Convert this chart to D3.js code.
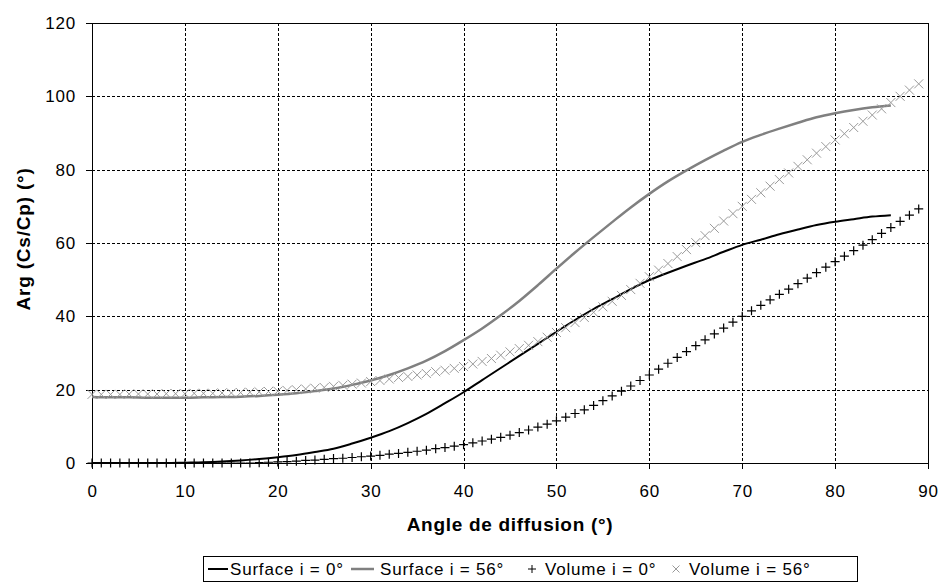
<!DOCTYPE html>
<html>
<head>
<meta charset="utf-8">
<script src="https://cdn.jsdelivr.net/npm/d3@7"></script>
<style>
  html, body { margin: 0; padding: 0; background: #fff; }
  svg { display: block; font-family: "Liberation Sans", Arial, sans-serif; }
</style>
</head>
<body>
<svg id="chart" width="939" height="583"></svg>
<script>
// Scattering angle (deg) and phase difference Arg(Cs/Cp) (deg)
const surfaceAngles = [0,2,4,6,8,10,12,14,16,18,20,22,24,26,28,30,32,34,36,38,40,42,44,46,48,50,52,54,56,58,60,62,64,66,68,70,72,74,76,78,80,82,84,86];
const surface0 = [0,0,0,0,0,0.1,0.2,0.4,0.7,1.1,1.6,2.2,3.0,3.9,5.3,6.9,8.7,10.9,13.4,16.3,19.3,22.6,25.9,29.2,32.5,35.8,39.0,42.0,44.7,47.4,49.9,51.9,53.8,55.6,57.6,59.5,60.9,62.4,63.7,64.9,65.8,66.5,67.2,67.6];
const surface56 = [18.0,17.9,17.9,17.8,17.8,17.8,17.9,18.0,18.1,18.3,18.6,19.0,19.6,20.3,21.3,22.5,24.0,25.8,27.9,30.5,33.5,36.7,40.3,44.2,48.5,53.0,57.4,61.6,65.7,69.7,73.4,76.8,79.8,82.6,85.2,87.6,89.5,91.2,92.8,94.3,95.4,96.3,97.0,97.5];

const volumeAngles = d3.range(0, 90);
const volume0 = [0,0,0,0,0,0,0,0,0,0,0,0,0,0,0,0,0,0,0.1,0.2,0.3,0.4,0.5,0.7,0.8,1.0,1.2,1.3,1.5,1.7,1.9,2.1,2.4,2.6,2.9,3.2,3.5,3.9,4.2,4.6,5.0,5.5,6.0,6.5,7.0,7.6,8.3,9.0,9.8,10.6,11.5,12.5,13.5,14.5,15.7,17.0,18.3,19.6,21.0,22.5,24.0,25.6,27.2,28.8,30.4,32.0,33.6,35.2,36.8,38.4,40.0,41.5,43.0,44.5,46.0,47.4,48.9,50.4,51.9,53.4,54.9,56.4,57.9,59.4,60.9,62.6,64.2,65.9,67.6,69.3];
const volume56 = [18.7,18.7,18.7,18.7,18.8,18.8,18.8,18.8,18.9,18.9,18.9,19.0,19.0,19.0,19.1,19.1,19.2,19.3,19.4,19.5,19.6,19.8,20.0,20.2,20.4,20.6,20.9,21.2,21.5,21.8,22.2,22.5,22.9,23.3,23.6,24.0,24.4,24.9,25.3,25.8,26.3,27.0,27.7,28.5,29.4,30.3,31.2,32.1,33.1,34.3,35.6,36.9,38.3,39.7,41.1,42.6,44.1,45.7,47.3,49.0,50.8,52.6,54.4,56.3,58.2,60.1,62.0,64.0,66.0,68.0,70.0,71.9,73.7,75.5,77.3,79.1,80.9,82.7,84.5,86.3,88.1,89.8,91.5,93.2,94.9,96.6,98.3,100.0,101.7,103.4];

const xTicks = [0,10,20,30,40,50,60,70,80,90];
const yTicks = [0,20,40,60,80,100,120];
const legendLabels = ["Surface i = 0°", "Surface i = 56°", "Volume i = 0°", "Volume i = 56°"];

const svg = d3.select("#chart");
const plot = { left: 92, top: 23, right: 928, bottom: 463 };

const x = d3.scaleLinear().domain([0, 90]).range([plot.left, plot.right]);
const y = d3.scaleLinear().domain([0, 120]).range([plot.bottom, plot.top]);

const tickFont = "17px";

// dashed grid
const grid = svg.append("g").attr("stroke", "#000").attr("stroke-width", 1).attr("stroke-dasharray", "3,2").attr("shape-rendering", "crispEdges");
grid.selectAll("line.h").data(yTicks.filter(d => d > 0 && d < 120)).join("line")
  .attr("class", "h")
  .attr("x1", plot.left).attr("x2", plot.right)
  .attr("y1", d => Math.round(y(d)) + 0.5).attr("y2", d => Math.round(y(d)) + 0.5);
grid.selectAll("line.v").data(xTicks.filter(d => d > 0 && d < 90)).join("line")
  .attr("class", "v")
  .attr("y1", plot.top).attr("y2", plot.bottom)
  .attr("x1", d => Math.round(x(d)) + 0.5).attr("x2", d => Math.round(x(d)) + 0.5);

// frame (top and right)
svg.append("path")
  .attr("d", `M${plot.left},${plot.top + 0.5}H${plot.right + 0.5}V${plot.bottom}`)
  .attr("fill", "none").attr("stroke", "#000").attr("stroke-width", 1).attr("shape-rendering", "crispEdges");

// axes
const xAxis = svg.append("g")
  .attr("transform", `translate(0,${plot.bottom})`)
  .call(d3.axisBottom(x).tickValues(xTicks).tickSize(6).tickPadding(16).tickFormat(d3.format("d")));
const yAxis = svg.append("g")
  .attr("transform", `translate(${plot.left},0)`)
  .call(d3.axisLeft(y).tickValues(yTicks).tickSize(6).tickPadding(10).tickFormat(d3.format("d")));
[xAxis, yAxis].forEach(a => {
  a.select(".domain").attr("stroke", "#000").attr("shape-rendering", "crispEdges");
  a.selectAll(".tick line").attr("stroke", "#000").attr("shape-rendering", "crispEdges");
  a.selectAll(".tick text").attr("fill", "#000").style("font-size", tickFont)
    .style("font-family", "'Liberation Sans', Arial, sans-serif").style("letter-spacing", "0.8px");
});

// axis titles
svg.append("text")
  .attr("x", (plot.left + plot.right) / 2).attr("y", 531)
  .attr("text-anchor", "middle").attr("font-weight", "bold").attr("font-size", "19px")
  .style("letter-spacing", "0.7px")
  .text("Angle de diffusion (°)");
svg.append("text")
  .attr("transform", `translate(30,${(plot.top + plot.bottom) / 2 - 4}) rotate(-90)`)
  .attr("text-anchor", "middle").attr("font-weight", "bold").attr("font-size", "19px")
  .style("letter-spacing", "0.8px")
  .text("Arg (Cs/Cp) (°)");

// surface curves
const line = d3.line().x(d => x(d[0])).y(d => y(d[1])).curve(d3.curveMonotoneX);
svg.append("path")
  .datum(surfaceAngles.map((a, i) => [a, surface56[i]]))
  .attr("d", line).attr("fill", "none").attr("stroke", "#808080").attr("stroke-width", 2.5);
svg.append("path")
  .datum(surfaceAngles.map((a, i) => [a, surface0[i]]))
  .attr("d", line).attr("fill", "none").attr("stroke", "#000").attr("stroke-width", 2);

// volume markers
const plusPath = s => `M${-s},0H${s}M0,${-s}V${s}`;
const crossPath = s => `M${-s},${-s}L${s},${s}M${-s},${s}L${s},${-s}`;

svg.append("g").selectAll("path")
  .data(volumeAngles.map((a, i) => [a, volume56[i]]))
  .join("path")
  .attr("transform", d => `translate(${x(d[0])},${y(d[1])})`)
  .attr("d", crossPath(4.5)).attr("fill", "none").attr("stroke", "#9a9a9a").attr("stroke-width", 1);

svg.append("g").selectAll("path")
  .data(volumeAngles.map((a, i) => [a, volume0[i]]))
  .join("path")
  .attr("transform", d => `translate(${x(d[0])},${y(d[1])})`)
  .attr("d", plusPath(4.5)).attr("fill", "none").attr("stroke", "#000").attr("stroke-width", 1.2);

// legend
const legend = svg.append("g");
legend.append("rect")
  .attr("x", 203.5).attr("y", 556.5).attr("width", 654).attr("height", 25)
  .attr("fill", "#fff").attr("stroke", "#000").attr("stroke-width", 1);
const legendY = 569;
const items = [
  { kind: "line", color: "#000", width: 2, x0: 208, x1: 228, tx: 230 },
  { kind: "line", color: "#808080", width: 2.5, x0: 351, x1: 374, tx: 380 },
  { kind: "plus", color: "#000", cx: 532, tx: 545 },
  { kind: "cross", color: "#9a9a9a", cx: 676, tx: 689 }
];
items.forEach((it, i) => {
  if (it.kind === "line") {
    legend.append("line").attr("x1", it.x0).attr("x2", it.x1).attr("y1", legendY).attr("y2", legendY)
      .attr("stroke", it.color).attr("stroke-width", it.width);
  } else {
    legend.append("path").attr("transform", `translate(${it.cx},${legendY})`)
      .attr("d", it.kind === "plus" ? plusPath(4) : crossPath(3.5))
      .attr("fill", "none").attr("stroke", it.color).attr("stroke-width", 1);
  }
  legend.append("text").attr("x", it.tx).attr("y", legendY).attr("dy", "0.36em")
    .attr("font-size", "17px").style("letter-spacing", "0.8px").attr("fill", "#000")
    .text(legendLabels[i]);
});
</script>
</body>
</html>
